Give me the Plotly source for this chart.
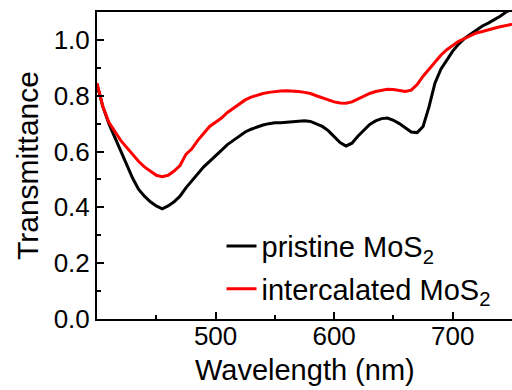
import plotly.graph_objects as go

wavelength = list(range(400, 755, 5))

pristine = [0.84, 0.76, 0.70, 0.65, 0.60, 0.55, 0.505, 0.465, 0.44, 0.42,
            0.405, 0.395, 0.405, 0.42, 0.44, 0.47, 0.495, 0.52, 0.545, 0.565,
            0.585, 0.605, 0.625, 0.64, 0.655, 0.67, 0.68, 0.688, 0.695, 0.70,
            0.703, 0.703, 0.705, 0.708, 0.708, 0.71, 0.708, 0.70, 0.69, 0.675,
            0.655, 0.632, 0.62, 0.63, 0.655, 0.678, 0.697, 0.71, 0.718, 0.72,
            0.712, 0.70, 0.685, 0.67, 0.668, 0.69, 0.76, 0.845, 0.895, 0.93,
            0.96, 0.985, 1.005, 1.02, 1.035, 1.05, 1.06, 1.072, 1.085, 1.10, 1.11]

intercalated = [0.845, 0.76, 0.705, 0.67, 0.64, 0.615, 0.59, 0.565, 0.545, 0.53,
                0.515, 0.51, 0.515, 0.53, 0.55, 0.59, 0.61, 0.64, 0.665, 0.69,
                0.705, 0.72, 0.74, 0.755, 0.77, 0.785, 0.795, 0.802, 0.808, 0.812,
                0.815, 0.817, 0.818, 0.817, 0.815, 0.812, 0.808, 0.80, 0.792, 0.785,
                0.778, 0.774, 0.773, 0.778, 0.788, 0.798, 0.808, 0.815, 0.82, 0.823,
                0.822, 0.818, 0.815, 0.82, 0.84, 0.87, 0.895, 0.92, 0.945, 0.965,
                0.98, 0.995, 1.005, 1.015, 1.025, 1.03, 1.037, 1.042, 1.047, 1.052, 1.056]

x_ticks = [500, 600, 700]
x_minor = [450, 550, 650, 750]

FONT = "Liberation Sans, Arial, sans-serif"

fig = go.Figure()
fig.add_trace(go.Scatter(x=wavelength, y=pristine, mode="lines",
                         line=dict(color="black", width=3),
                         name="pristine MoS<sub>2</sub>", legendgroup="a"))
fig.add_trace(go.Scatter(x=wavelength, y=intercalated, mode="lines",
                         line=dict(color="#ff0000", width=3),
                         name="intercalated MoS<sub>2</sub>", legendgroup="b"))

fig.update_layout(
    width=512, height=390,
    margin=dict(l=97, r=0, t=12, b=71),
    paper_bgcolor="white", plot_bgcolor="white",
    font=dict(family=FONT, color="black", size=26),
    showlegend=True,
    legend=dict(x=0.30, y=0.32, xanchor="left", yanchor="top",
                bgcolor="rgba(0,0,0,0)", font=dict(size=29),
                tracegroupgap=2, itemwidth=30),
    annotations=[dict(text="Wavelength (nm)", xref="paper", yref="paper",
                      x=0.5, y=0, xanchor="center", yanchor="top",
                      yshift=-33, showarrow=False, font=dict(size=29))],
)
fig.update_xaxes(
    range=[400, 750], showline=True, linecolor="black", linewidth=2,
    mirror=True, showgrid=False, zeroline=False,
    tickmode="array", tickvals=x_ticks, ticks="inside", ticklen=7,
    tickwidth=2, tickcolor="black", tickfont=dict(size=26),
    ticklabelstandoff=-7,
    minor=dict(tickmode="array", tickvals=x_minor, ticks="inside",
               ticklen=4, tickwidth=2, tickcolor="black"),
)
fig.update_yaxes(
    range=[0, 1.1], showline=True, linecolor="black", linewidth=2,
    showgrid=False, zeroline=False, dtick=0.2, tick0=0, tickformat=".1f",
    ticks="inside", ticklen=7, tickwidth=2, tickcolor="black",
    tickfont=dict(size=26),
    minor=dict(dtick=0.1, ticks="inside", ticklen=4, tickwidth=2,
               tickcolor="black"),
    title=dict(text="Transmittance", font=dict(size=30), standoff=6),
)

fig.write_html("out.html")
